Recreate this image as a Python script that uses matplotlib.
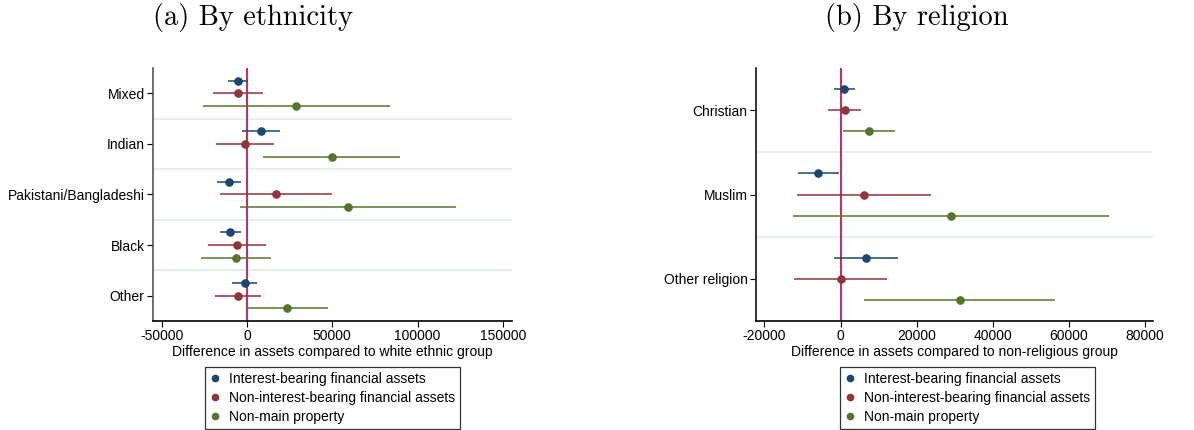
import matplotlib
matplotlib.use("Agg")
import matplotlib.pyplot as plt
from matplotlib.lines import Line2D
import numpy as np

plt.rcParams['font.family'] = ['Liberation Sans', 'DejaVu Sans']

series = ["Interest-bearing financial assets",
          "Non-interest-bearing financial assets",
          "Non-main property"]
colors = ["#1a476f", "#90353b", "#55752f"]

# (a) ethnicity: point estimates and confidence bounds per series
eth_groups = ["Mixed", "Indian", "Pakistani/Bangladeshi", "Black", "Other"]
eth_est = [
    [-5300, 8000, -10400, -9800, -1400],
    [-5100, -1200, 17000, -5900, -5300],
    [28900, 49600, 59200, -6300, 23600],
]
eth_lo = [
    [-11300, -2900, -17400, -15800, -8600],
    [-19700, -18200, -16000, -22900, -18600],
    [-25800, 9400, -4100, -27000, 400],
]
eth_hi = [
    [800, 19100, -3500, -3700, 6100],
    [9600, 16000, 50000, 10900, 8000],
    [83800, 90000, 122300, 14300, 47300],
]

# (b) religion
rel_groups = ["Christian", "Muslim", "Other religion"]
rel_est = [
    [960, -5800, 6700],
    [1100, 6200, 0],
    [7500, 29000, 31300],
]
rel_lo = [
    [-1700, -11100, -1700],
    [-3200, -11300, -12300],
    [700, -12400, 6300],
]
rel_hi = [
    [3700, -500, 15200],
    [5400, 23900, 12300],
    [14400, 70600, 56400],
]

W, H = 1194, 430
fig = plt.figure(figsize=(W / 100, H / 100), dpi=100)
FS = 10


def panel(rect, groups, est, lo, hi, xlim, xticks, xlabel, left_spine_color):
    ax = fig.add_axes(rect)
    n = len(groups)
    pos = np.arange(n)
    offsets = [-0.25, 0.0, 0.25]
    # light separators between groups
    for k in range(n - 1):
        ax.axhline(k + 0.5, color="#e6eff0", lw=1.4, zorder=0)
    ax.axvline(0, color="#c10534", lw=1.2, zorder=1)
    for s in range(3):
        y = pos + offsets[s]
        ax.hlines(y, lo[s], hi[s], color=colors[s], lw=1.3, alpha=0.85, zorder=2)
        ax.plot(est[s], y, "o", color=colors[s], ms=5.2, zorder=3)
    ax.set_ylim(n - 0.5, -0.5)
    ax.set_xlim(*xlim)
    ax.set_yticks(pos)
    ax.set_yticklabels(groups, fontsize=FS)
    ax.set_xticks(xticks)
    ax.set_xticklabels([str(t) for t in xticks], fontsize=FS)
    ax.tick_params(axis="both", length=4, width=0.8, pad=2)
    ax.set_xlabel(xlabel, fontsize=FS, labelpad=1)
    for side in ("top", "right"):
        ax.spines[side].set_visible(False)
    ax.spines["left"].set_color(left_spine_color)
    ax.spines["left"].set_linewidth(1.2)
    ax.spines["bottom"].set_linewidth(1.2)
    return ax


ax1 = panel([153 / W, 109 / H, 359 / W, 253 / H], eth_groups, eth_est, eth_lo, eth_hi,
            (-55100, 155400), [-50000, 0, 50000, 100000, 150000],
            "Difference in assets compared to white ethnic group", "#555555")
ax2 = panel([756 / W, 109 / H, 397 / W, 253 / H], rel_groups, rel_est, rel_lo, rel_hi,
            (-22200, 82100), [-20000, 0, 20000, 40000, 60000, 80000],
            "Difference in assets compared to non-religious group", "#111111")

handles = [Line2D([], [], ls="none", marker="o", ms=4.5, color=c) for c in colors]
for ax, cx in ((ax1, 332.5 / W), (ax2, 967.5 / W)):
    leg = fig.legend(handles, series, loc="center", bbox_to_anchor=(cx, 1 - 398 / H),
                     fontsize=FS, frameon=True, fancybox=False, edgecolor="black",
                     handlelength=0.8, handletextpad=0.6, labelspacing=0.37,
                     borderpad=0.35, borderaxespad=0)
    leg.get_frame().set_linewidth(0.9)

fig.text(253 / W, 1 - 18 / H, "(a) By ethnicity", ha="center", va="center",
         family="cmr10", fontsize=20.5)
fig.text(917 / W, 1 - 18 / H, "(b) By religion", ha="center", va="center",
         family="cmr10", fontsize=20.5)

fig.savefig("out.png", dpi=100)
